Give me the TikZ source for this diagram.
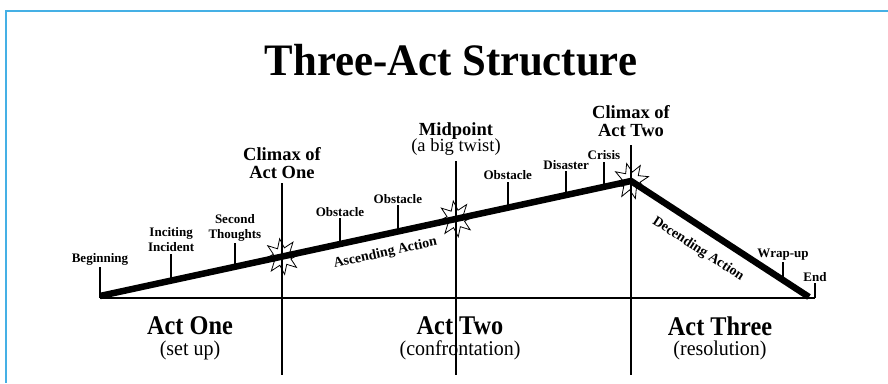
\documentclass[tikz,border=0pt]{standalone}
\usepackage{fontspec}
\setmainfont{Liberation Serif}
\usepackage{xcolor}
\definecolor{frameBlue}{HTML}{45B0E5}
\usepackage{tikz}
\usetikzlibrary{shapes.geometric,calc}
\tikzset{lbl/.style={font=\fontsize{13}{15}\selectfont\bfseries, align=center, inner sep=1pt, anchor=south}}
\tikzset{head/.style={font=\fontsize{18.5}{18}\selectfont\bfseries, align=center, inner sep=1pt}}
\tikzset{act/.style={font=\fontsize{27}{27}\selectfont\bfseries, xscale=0.9, transform shape, inner sep=0pt}}
\tikzset{actsub/.style={font=\fontsize{21}{21}\selectfont, xscale=0.95, transform shape, inner sep=0pt}}
\tikzset{action/.style={font=\fontsize{14}{14}\selectfont\bfseries, inner sep=1pt}}
\tikzset{tick/.style={line width=1.5pt}}
\tikzset{burst/.style={star, star points=8, star point ratio=2, minimum size=36pt, inner sep=0pt, draw, fill=white, line width=0.8pt}}

\begin{document}
\begin{tikzpicture}[x=1pt, y=-1pt]
\useasboundingbox (0,0) rectangle (888,383);
\draw[frameBlue, line width=2pt] (888,11) -- (5.5,11) -- (5.5,383);

%--------------------
% title
%--------------------
\node[font=\fontsize{45}{45}\selectfont\bfseries, xscale=0.95, transform shape] (title) at (451,60) {Three-Act Structure};

%--------------------
% the story line
%--------------------
\coordinate (start) at (100,296);
\coordinate (peak) at (631,181);
\coordinate (finish) at (809,297);
\coordinate (baseL) at (100,298);
\coordinate (baseR) at (815,298);

\node[burst, rotate=8] (burstone) at ($(start)!0.343!(peak)$) {};
\node[burst, rotate=8] (bursttwo) at ($(start)!0.670!(peak)$) {};
\node[burst, rotate=14] (burstthree) at (peak) {};

\draw[line width=1.5pt] (baseL) -- (baseR);
\draw[line width=6.5pt, line join=miter] (start) -- (peak) -- (finish);

%--------------------
% act borders
%--------------------
\node[head, anchor=south] (climaxone) at (282,180) {Climax of\\Act One};
\node[head, anchor=south] (midpoint) at (456,157) {Midpoint\\[-2pt]\fontsize{18.5}{18}\mdseries(a big twist)};
\node[head, anchor=south] (climaxtwo) at (631,138) {Climax of\\Act Two};
\draw[tick] (282,183) -- (282,375);
\draw[tick] (456,161) -- (456,375);
\draw[tick] (631,145) -- (631,375);

%--------------------
% ticks along the line
%--------------------
\draw[tick] (baseL) -- ++(0,-31) node[lbl] (beginning) {Beginning};
\draw[tick] ($(start)!0.134!(peak)$) -- ++(0,-27) node[lbl] (inciting) {Inciting\\Incident};
\draw[tick] ($(start)!0.254!(peak)$) -- ++(0,-24) node[lbl] (second) {Second\\Thoughts};
\draw[tick] ($(start)!0.452!(peak)$) -- ++(0,-26) node[lbl] (obstacleone) {Obstacle};
\draw[tick] ($(start)!0.561!(peak)$) -- ++(0,-26) node[lbl] (obstacletwo) {Obstacle};
\draw[tick] ($(start)!0.768!(peak)$) -- ++(0,-26) node[lbl] (obstaclethree) {Obstacle};
\draw[tick] ($(start)!0.878!(peak)$) -- ++(0,-24) node[lbl] (disaster) {Disaster};
\draw[tick] ($(start)!0.949!(peak)$) -- ++(0,-25) node[lbl] (crisis) {Crisis};
\draw[tick] ($(peak)!0.854!(finish)$) -- ++(0,-18) node[lbl] (wrapup) {Wrap-up};
\draw[tick] (baseR) -- ++(0,-15) node[lbl] (end) {End};

\path (start) -- (peak) node[action, pos=0.53, sloped, below=11pt] (ascending) {Ascending Action};
\path (peak) -- (finish) node[action, pos=0.44, sloped, below=13pt] (descending) {Decending Action};

%--------------------
% the acts
%--------------------
\node[act] (actone) at (190,326) {Act One};
\node[actsub] (setup) at (190,350) {(set up)};
\node[act] (acttwo) at (460,326) {Act Two};
\node[actsub] (confront) at (460,350) {(confrontation)};
\node[act] (actthree) at (720,326) {Act Three};
\node[actsub] (resolution) at (720,350) {(resolution)};
\end{tikzpicture}
\end{document}
